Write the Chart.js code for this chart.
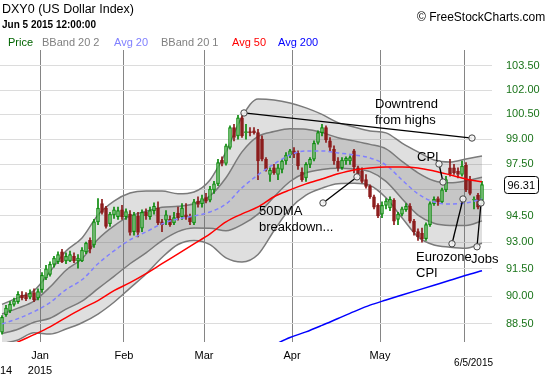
<!DOCTYPE html>
<html><head><meta charset="utf-8">
<script src="https://cdn.jsdelivr.net/npm/chart.js@4.4.0/dist/chart.umd.min.js"></script>
<style>
html,body{margin:0;padding:0;background:#fff;}
#wrap{position:relative;width:550px;height:375px;overflow:hidden;background:#fff;}
canvas{position:absolute;left:0;top:0;}
.t{position:absolute;white-space:nowrap;font-family:"Liberation Sans",Arial,sans-serif;line-height:1;}
</style></head><body>
<div id="wrap">
<canvas id="c" width="550" height="375"></canvas>
<div class="t" style="left:2px;top:3px;font-size:12.5px;color:#000">DXY0 (US Dollar Index)</div>
<div class="t" style="left:2px;top:20px;font-size:10px;font-weight:bold;color:#000">Jun 5 2015 12:00:00</div>
<div class="t" style="left:417px;top:11px;font-size:12px;color:#000">© FreeStockCharts.com</div>
<div class="t" style="left:8px;top:37px;font-size:11px;color:#006400">Price</div>
<div class="t" style="left:42px;top:37px;font-size:11px;color:#808080">BBand 20 2</div>
<div class="t" style="left:114px;top:37px;font-size:11px;color:#8080ff">Avg 20</div>
<div class="t" style="left:161px;top:37px;font-size:11px;color:#808080">BBand 20 1</div>
<div class="t" style="left:232px;top:37px;font-size:11px;color:#ff0000">Avg 50</div>
<div class="t" style="left:278px;top:37px;font-size:11px;color:#0000ff">Avg 200</div>
</div>
<script>
const FONT = '"Liberation Sans", Arial, sans-serif';
const MONTHS = ['Jan','Feb','Mar','Apr','May','Jun','Jul','Aug','Sep','Oct','Nov','Dec'];

// trading days shown
const dates = [
 '2014-12-17','2014-12-18','2014-12-19','2014-12-22','2014-12-23','2014-12-24','2014-12-26','2014-12-29','2014-12-30','2014-12-31',
 '2015-01-02','2015-01-05','2015-01-06','2015-01-07','2015-01-08','2015-01-09','2015-01-12','2015-01-13','2015-01-14','2015-01-15',
 '2015-01-16','2015-01-19','2015-01-20','2015-01-21','2015-01-22','2015-01-23','2015-01-26','2015-01-27','2015-01-28','2015-01-29',
 '2015-01-30','2015-02-02','2015-02-03','2015-02-04','2015-02-05','2015-02-06','2015-02-09','2015-02-10','2015-02-11','2015-02-12',
 '2015-02-13','2015-02-16','2015-02-17','2015-02-18','2015-02-19','2015-02-20','2015-02-23','2015-02-24','2015-02-25','2015-02-26',
 '2015-02-27','2015-03-02','2015-03-03','2015-03-04','2015-03-05','2015-03-06','2015-03-09','2015-03-10','2015-03-11','2015-03-12',
 '2015-03-13','2015-03-16','2015-03-17','2015-03-18','2015-03-19','2015-03-20','2015-03-23','2015-03-24','2015-03-25','2015-03-26',
 '2015-03-27','2015-03-30','2015-03-31','2015-04-01','2015-04-02','2015-04-03','2015-04-06','2015-04-07','2015-04-08','2015-04-09',
 '2015-04-10','2015-04-13','2015-04-14','2015-04-15','2015-04-16','2015-04-17','2015-04-20','2015-04-21','2015-04-22','2015-04-23',
 '2015-04-24','2015-04-27','2015-04-28','2015-04-29','2015-04-30','2015-05-01','2015-05-04','2015-05-05','2015-05-06','2015-05-07',
 '2015-05-08','2015-05-11','2015-05-12','2015-05-13','2015-05-14','2015-05-15','2015-05-18','2015-05-19','2015-05-20','2015-05-21',
 '2015-05-22','2015-05-25','2015-05-26','2015-05-27','2015-05-28','2015-05-29','2015-06-01','2015-06-02','2015-06-03','2015-06-04',
 '2015-06-05'];

const opens = [88.05,89.00,89.20,89.55,89.70,90.05,90.05,89.95,90.20,89.90,
 90.35,91.00,91.20,91.75,91.90,92.45,91.95,91.95,92.20,91.95,
 91.95,92.45,93.10,92.85,94.15,95.20,94.95,94.05,94.55,94.45,
 94.85,94.45,94.60,93.60,94.50,93.80,94.70,94.45,94.80,94.95,
 94.15,94.25,94.30,94.10,94.65,94.45,94.55,94.45,94.10,95.35,
 95.20,95.55,95.40,96.00,96.35,97.75,97.55,98.50,99.70,99.20,
 100.30,99.40,99.45,99.50,99.40,99.00,97.80,96.90,97.30,96.90,
 97.20,97.70,98.05,98.30,98.15,97.05,96.70,97.50,97.80,98.80,
 99.40,99.70,98.90,98.40,97.70,97.30,97.70,97.70,98.30,97.30,
 97.10,96.60,96.20,95.60,95.10,94.60,95.10,94.95,95.40,94.30,
 94.60,94.85,95.05,94.20,93.60,93.50,93.20,94.00,95.20,95.50,
 95.30,96.00,97.30,97.30,97.10,96.90,97.45,96.60,95.40,95.70,
 95.40];
const highs = [88.95,89.50,89.70,89.90,90.25,90.25,90.20,90.35,90.40,90.40,
 91.30,91.70,91.90,92.20,92.45,92.60,92.40,92.50,92.40,92.30,
 92.70,93.00,93.25,94.30,95.50,95.45,95.05,94.70,95.00,95.00,
 95.10,94.90,94.80,94.70,94.70,94.85,94.90,95.00,95.25,95.30,
 94.30,94.80,94.50,94.70,95.00,95.20,95.20,94.60,95.45,95.60,
 95.70,95.80,96.20,96.50,97.80,97.95,98.70,99.80,99.90,100.45,
 100.60,99.90,99.70,99.70,99.60,99.20,97.90,97.30,97.50,97.50,
 97.80,98.20,98.40,98.50,98.30,97.30,97.60,97.90,98.90,99.50,
 99.90,99.80,99.10,98.60,97.90,97.90,97.95,98.00,98.40,97.40,
 97.30,96.90,96.30,95.70,95.20,95.30,95.50,95.60,95.50,94.70,
 95.00,95.20,95.20,94.30,93.75,93.80,94.10,95.30,95.60,95.60,
 96.10,96.80,97.80,97.50,97.30,97.70,97.60,96.80,95.60,95.80,
 96.50];
const lows = [87.95,88.90,89.10,89.45,89.60,89.80,89.75,89.85,89.70,89.80,
 90.20,90.90,91.10,91.60,91.80,91.85,91.80,91.90,91.85,91.55,
 91.90,92.35,92.40,92.70,94.00,94.60,93.80,93.90,94.35,94.30,
 94.30,94.30,93.40,93.40,93.30,93.60,94.30,94.30,94.60,94.00,
 93.60,94.00,93.90,94.00,94.25,94.30,94.30,94.00,94.00,95.00,
 95.00,95.25,95.30,95.80,96.25,97.40,97.45,98.40,98.90,99.00,
 99.10,99.00,99.20,99.30,96.60,97.70,97.10,96.50,96.90,96.60,
 97.00,97.50,97.90,97.90,97.20,96.50,96.50,97.30,97.70,98.70,
 99.20,98.80,98.30,97.50,97.10,97.20,97.50,97.50,97.00,96.80,
 96.40,96.10,95.50,94.90,94.40,94.40,94.90,94.80,94.00,94.00,
 94.50,94.75,94.10,93.40,93.10,93.00,93.10,93.90,95.10,95.10,
 95.20,95.90,96.80,96.90,96.70,96.80,95.90,95.70,94.90,94.90,
 95.20];
const closes = [88.85,89.35,89.55,89.75,90.10,89.90,89.85,90.15,89.80,90.25,
 91.15,91.50,91.75,92.10,92.30,91.90,92.20,92.30,91.95,92.10,
 92.55,92.95,92.60,94.15,94.95,94.70,93.90,94.60,94.85,94.80,
 94.45,94.75,93.55,94.55,93.55,94.70,94.50,94.80,95.05,94.10,
 94.00,94.55,94.00,94.40,94.40,94.95,94.45,94.15,95.30,95.15,
 95.50,95.35,96.05,96.35,97.60,97.55,98.60,99.70,99.10,100.30,
 99.20,99.45,99.40,99.40,97.70,97.80,97.20,97.15,97.00,97.30,
 97.70,98.05,98.30,98.10,97.40,96.60,97.50,97.80,98.75,99.40,
 99.70,98.95,98.50,97.70,97.30,97.75,97.85,97.90,97.35,96.95,
 96.50,96.20,95.60,95.00,94.50,95.10,95.35,95.45,94.20,94.60,
 94.90,95.05,94.20,93.60,93.30,93.20,94.00,95.20,95.45,95.30,
 96.00,96.60,96.95,97.00,96.90,97.40,96.00,95.80,95.45,95.00,
 96.31];

// indicator readings, sampled at these day indices
const lineIdx = [0,4,8,12,16,20,24,28,32,36,40,44,48,52,56,60,64,68,72,76,80,84,88,92,96,100,104,108,112,116,120];
const avg20    = [88.50,88.78,89.16,89.65,90.36,90.90,91.79,92.51,93.13,93.58,94.04,94.32,94.49,94.72,95.18,96.12,96.88,97.52,98.06,98.30,98.30,98.18,98.06,97.88,97.46,96.58,95.77,95.30,95.18,95.24,95.47];
const bbUpper2 = [89.55,89.92,90.30,91.35,92.50,93.24,94.55,95.35,95.82,95.94,95.94,95.77,95.88,96.58,98.24,100.35,101.45,101.39,101.20,100.90,100.50,100.00,99.74,99.50,99.38,98.77,98.24,97.76,97.64,97.82,98.00];
const bbUpper1 = [89.03,89.35,89.73,90.50,91.43,92.07,93.17,93.93,94.48,94.76,94.99,95.05,95.19,95.65,96.71,98.24,99.17,99.46,99.63,99.60,99.40,99.09,98.90,98.69,98.42,97.68,97.00,96.53,96.41,96.53,96.74];
const bbLower1 = [87.98,88.21,88.59,88.80,89.29,89.73,90.41,91.09,91.79,92.40,93.09,93.60,93.80,93.79,93.65,94.00,94.60,95.59,96.49,97.00,97.20,97.27,97.22,97.07,96.50,95.49,94.54,94.07,93.95,93.95,94.21];
const bbLower2 = [87.45,87.64,88.02,87.95,88.22,88.56,89.03,89.67,90.44,91.22,92.14,92.87,93.10,92.86,92.12,91.89,92.31,93.65,94.92,95.70,96.10,96.36,96.38,96.26,95.54,94.39,93.30,92.84,92.72,92.66,92.94];
const avg50    = [87.06,87.53,87.92,88.34,88.84,89.32,89.76,90.30,90.74,91.24,91.79,92.34,92.90,93.47,94.15,94.61,95.01,95.60,96.00,96.35,96.64,96.94,97.17,97.29,97.34,97.34,97.29,97.11,96.88,96.64,96.47];
const avg200Idx = [68,72,76,80,84,88,92,96,100,104,108,112,116,120];
const avg200    = [87.38,87.77,88.07,88.42,88.79,89.16,89.51,89.79,90.06,90.33,90.60,90.87,91.15,91.40];

const yTicks = [88.5,90,91.5,93,94.5,96,97.5,99,100.5,102,103.5];
const yMin = 87.53, yMax = 104.51;

// annotations: [dayIndex, price]
const noteLines = [
  [[60.5,100.59],[117.5,99.07]],
  [[109.25,97.52],[110.25,96.46]],
  [[80.25,95.24],[88.75,96.76]],
  [[112.5,92.91],[115.25,95.47]],
  [[118.75,92.74],[119.75,95.24]]
];
const noteTexts = [
  {lines:['Downtrend','from highs'], at:[93.25,101.14]},
  {lines:['CPI'], at:[103.75,97.94]},
  {lines:['50DMA','breakdown...'], at:[64.25,94.78]},
  {lines:['Eurozone','CPI'], at:[103.5,92.12]},
  {lines:['Jobs'], at:[117.25,92.01]}
];

// ---- build ----
const N = dates.length;
const days = dates.map((d,i)=>i);
const monthStarts = days.filter(i => i > 0 && dates[i].slice(0,7) !== dates[i-1].slice(0,7));
const isUp = days.map(i => closes[i] >= opens[i]);
const UP = '#0a8a0a', DOWN = '#8b1a1a';
const pts = (idx, arr) => idx.map((x,k) => ({x, y: arr[k]}));

const lineDs = (label, idx, arr, color, extra) => Object.assign({
  type:'line', label, data: pts(idx, arr), borderColor: color, borderWidth: 1.5,
  pointRadius: 0, cubicInterpolationMode: 'monotone', fill: false
}, extra || {});

const datasets = [
  lineDs('Avg 50', lineIdx, avg50, '#ff0000', {order:0}),
  lineDs('Avg 200', avg200Idx, avg200, '#0000ff', {order:0}),
  lineDs('Avg 20', lineIdx, avg20, '#8080ff', {order:1, borderDash:[4,3]}),
  { type:'bar', label:'Body', order:2, grouped:false, barThickness:3, minBarLength:1,
    data: days.map(i => ({x:i, y:[opens[i], closes[i]]})),
    backgroundColor: days.map(i => isUp[i] ? 'rgba(255,255,255,0.35)' : DOWN),
    borderColor: days.map(i => isUp[i] ? UP : DOWN), borderWidth:1, borderSkipped:false },
  { type:'bar', label:'WickUp', order:3, grouped:false, barThickness:1,
    data: days.map(i => ({x:i, y:[Math.max(opens[i],closes[i]), highs[i]]})),
    backgroundColor: days.map(i => isUp[i] ? UP : DOWN), borderWidth:0 },
  { type:'bar', label:'WickDn', order:3, grouped:false, barThickness:1,
    data: days.map(i => ({x:i, y:[lows[i], Math.min(opens[i],closes[i])]})),
    backgroundColor: days.map(i => isUp[i] ? UP : DOWN), borderWidth:0 },
  lineDs('BBand 20 1 up', lineIdx, bbUpper1, '#7a7a7a', {order:4}),
  lineDs('BBand 20 1 lo', lineIdx, bbLower1, '#7a7a7a', {order:4, fill:'-1', backgroundColor:'rgba(110,110,110,0.22)'}),
  lineDs('BBand 20 2 up', lineIdx, bbUpper2, '#7a7a7a', {order:5}),
  lineDs('BBand 20 2 lo', lineIdx, bbLower2, '#7a7a7a', {order:5, fill:'-1', backgroundColor:'rgba(110,110,110,0.22)'})
];

const overlay = {
  id:'overlay',
  afterDatasetsDraw(chart){
    const {ctx, scales:{x, y}} = chart;
    ctx.save();
    noteLines.forEach(([a,b]) => {
      const ax = x.getPixelForValue(a[0]), ay = y.getPixelForValue(a[1]);
      const bx = x.getPixelForValue(b[0]), by = y.getPixelForValue(b[1]);
      ctx.strokeStyle = '#000'; ctx.lineWidth = 1.3;
      ctx.beginPath(); ctx.moveTo(ax,ay); ctx.lineTo(bx,by); ctx.stroke();
      [[ax,ay],[bx,by]].forEach(([px,py]) => {
        ctx.beginPath(); ctx.arc(px,py,3.2,0,Math.PI*2);
        ctx.fillStyle = 'rgba(245,245,245,0.9)'; ctx.fill();
        ctx.strokeStyle = '#444'; ctx.lineWidth = 1; ctx.stroke();
      });
    });
    ctx.font = '13px ' + FONT; ctx.fillStyle = '#000';
    ctx.textAlign = 'left'; ctx.textBaseline = 'middle';
    noteTexts.forEach(n => {
      const px = x.getPixelForValue(n.at[0]), py = y.getPixelForValue(n.at[1]);
      n.lines.forEach((t,k) => ctx.fillText(t, px, py + k*16));
    });
    ctx.restore();
  },
  afterDraw(chart){
    const {ctx, chartArea:ca, scales:{x, y}} = chart;
    ctx.save();
    ctx.font = '11px ' + FONT; ctx.fillStyle = '#000';
    ctx.textAlign = 'center'; ctx.textBaseline = 'middle';
    monthStarts.forEach(i => {
      const m = +dates[i].slice(5,7);
      if (i === monthStarts[monthStarts.length-1] && N - i < 10) return;
      const px = x.getPixelForValue(i - 0.5);
      ctx.fillText(MONTHS[m-1], px, 356);
      if (m === 1) ctx.fillText(dates[i].slice(0,4), px, 371);
    });
    ctx.fillText(dates[0].slice(0,4), ca.left, 371);
    const last = dates[N-1];
    ctx.font = '10px ' + FONT; ctx.textAlign = 'right';
    ctx.fillText((+last.slice(5,7)) + '/' + (+last.slice(8,10)) + '/' + last.slice(0,4), ca.right + 1, 363);
    // last price box
    const v = closes[N-1], py = Math.round(y.getPixelForValue(v));
    const txt = v.toFixed(2);
    ctx.font = '11px ' + FONT;
    const w = Math.round(ctx.measureText(txt).width + 6), h = 17;
    const bx = Math.round(ca.right + 12) + 0.5, by = py - 8.5;
    ctx.beginPath(); ctx.roundRect(bx, by, w, h, 3);
    ctx.fillStyle = '#fff'; ctx.fill();
    ctx.strokeStyle = '#000'; ctx.lineWidth = 1; ctx.stroke();
    ctx.fillStyle = '#000'; ctx.textAlign = 'left';
    ctx.fillText(txt, bx + 3, py + 0.5);
    ctx.restore();
  }
};

new Chart(document.getElementById('c'), {
  type:'bar',
  data:{ datasets },
  options:{
    responsive:false, animation:false, devicePixelRatio:1,
    layout:{ padding:{ top:50, left:0, right:0, bottom:0 } },
    plugins:{ legend:{display:false}, tooltip:{enabled:false} },
    scales:{
      x:{ type:'linear', min:-0.5, max:N + 1.5, bounds:'data', offset:false,
        afterBuildTicks: s => { s.ticks = monthStarts.map(i => ({value: i - 0.5})); },
        grid:{ color:'#858585', lineWidth:1, drawTicks:false, offset:false },
        border:{ display:false }, ticks:{ display:false },
        afterFit: s => { s.height = 33; } },
      y:{ type:'logarithmic', position:'right', min:yMin, max:yMax, bounds:'data',
        afterBuildTicks: s => { s.ticks = yTicks.map(v => ({value:v})); },
        grid:{ color:'#dcdcdc', drawTicks:false },
        border:{ display:false },
        ticks:{ padding:14, color:'#1a741a', font:{ family: FONT, size:11 },
          callback: v => (Math.abs(v - 96) < 1e-9 ? '' : Number(v).toFixed(2)) },
        afterFit: s => { s.width = 58; } }
    }
  },
  plugins:[overlay]
});
</script>
</body></html>
